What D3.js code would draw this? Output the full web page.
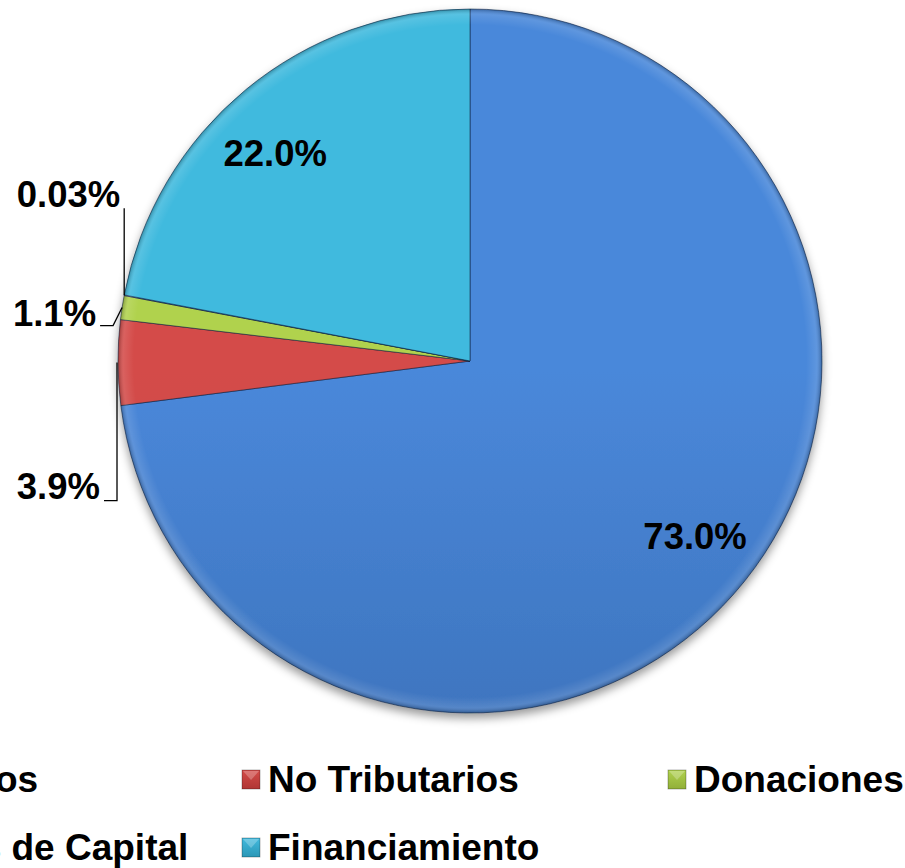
<!DOCTYPE html>
<html>
<head>
<meta charset="utf-8">
<script src="https://cdn.jsdelivr.net/npm/d3@7/dist/d3.min.js"></script>
<style>
  html, body { margin: 0; padding: 0; background: #fff; }
  svg { display: block; }
</style>
</head>
<body>
<div id="chart"></div>
<script>
// data
const categories = ["Tributarios", "No Tributarios", "Donaciones", "Ingresos de Capital", "Financiamiento"];
const shares = [73.0, 3.9, 1.1, 0.03, 22.0];
const colorsTop = ["#4a88da", "#d44c49", "#b0d24e", "#8a6cb8", "#41bade"];
const colorsBottom = ["#3262a4", "#b03634", "#91af38", "#6e529c", "#2c97b6"];

const width = 905, height = 868;
const cx = 470, cy = 361, R = 352;
const font = "'Liberation Sans', Arial, sans-serif";

// outside labels: leader path relative to the slice edge point, text at the last point
const outside = {
  "Ingresos de Capital": { path: [[0, 0], [0, -87]], dx: -4, dy: -1 },
  "Donaciones": { path: [[0, 0], [-9, 18], [-22, 18]], dx: -4, dy: 0 },
  "No Tributarios": { path: [[-1, 0], [-1, 138], [-14, 138]], dx: -4, dy: -2 },
};

const rows = categories.map((name, i) => ({ name, value: shares[i], i }));

const svg = d3.select("#chart").append("svg").attr("width", width).attr("height", height);
const defs = svg.append("defs");

const shadow = defs.append("filter").attr("id", "shadow").attr("x", "-10%").attr("y", "-10%").attr("width", "120%").attr("height", "120%");
shadow.append("feDropShadow").attr("dx", 0).attr("dy", 5).attr("stdDeviation", 5).attr("flood-color", "#000").attr("flood-opacity", 0.4);

rows.forEach((d) => {
  const g = defs.append("linearGradient").attr("id", `grad${d.i}`)
    .attr("gradientUnits", "userSpaceOnUse")
    .attr("x1", cx).attr("x2", cx).attr("y1", cy - R).attr("y2", cy + R);
  g.append("stop").attr("offset", "0%").attr("stop-color", colorsTop[d.i]);
  g.append("stop").attr("offset", "100%").attr("stop-color", colorsBottom[d.i]);

  const m = defs.append("linearGradient").attr("id", `mark${d.i}`).attr("x1", "0%").attr("x2", "0%").attr("y1", "0%").attr("y2", "100%");
  m.append("stop").attr("offset", "0%").attr("stop-color", colorsTop[d.i]);
  m.append("stop").attr("offset", "100%").attr("stop-color", colorsBottom[d.i]);
});

const rim = defs.append("radialGradient").attr("id", "rim")
  .attr("gradientUnits", "userSpaceOnUse").attr("cx", cx).attr("cy", cy).attr("r", R);
rim.append("stop").attr("offset", "0.955").attr("stop-color", "#fff").attr("stop-opacity", 0);
rim.append("stop").attr("offset", "0.985").attr("stop-color", "#fff").attr("stop-opacity", 0.12);
rim.append("stop").attr("offset", "1").attr("stop-color", "#000").attr("stop-opacity", 0.25);

const pie = d3.pie().sort(null).value((d) => d.value).startAngle(0).endAngle(2 * Math.PI);
const arcs = pie(rows);
const arc = d3.arc().innerRadius(0).outerRadius(R);
const edge = d3.arc().innerRadius(R).outerRadius(R);

const pieG = svg.append("g").attr("transform", `translate(${cx},${cy})`);
const slices = pieG.append("g").attr("filter", "url(#shadow)");
slices.selectAll("path")
  .data(arcs)
  .enter()
  .append("path")
  .attr("d", arc)
  .attr("fill", (d) => `url(#grad${d.data.i})`)
  .attr("stroke", "rgba(10,30,60,0.55)")
  .attr("stroke-width", 1)
  .attr("stroke-linejoin", "round");

pieG.append("circle").attr("r", R).attr("fill", "url(#rim)").attr("transform", `translate(${-cx},${-cy})`)
  .attr("cx", cx).attr("cy", cy);

const fmt = (v) => (v < 0.1 ? v.toFixed(2) : v.toFixed(1)) + "%";

// labels inside the big slices, a little counter-clockwise of the middle (as Excel puts them)
const labelPos = (d) => {
  const a = (d.startAngle + d.endAngle) / 2 - 0.061;
  const r = R * 0.81;
  return [r * Math.sin(a), -r * Math.cos(a)];
};
pieG.append("g")
  .selectAll("text")
  .data(arcs.filter((d) => !outside[d.data.name]))
  .enter()
  .append("text")
  .attr("x", (d) => labelPos(d)[0])
  .attr("y", (d) => labelPos(d)[1] + 13)
  .attr("text-anchor", "middle")
  .attr("font-family", font)
  .attr("font-weight", "bold")
  .attr("font-size", 36.5)
  .attr("fill", "#000")
  .text((d) => fmt(d.data.value));

// outside labels with leader lines
const outG = pieG.append("g");
arcs.filter((d) => outside[d.data.name]).forEach((d) => {
  const spec = outside[d.data.name];
  const p = edge.centroid(d);
  const pts = spec.path.map(([dx, dy]) => [p[0] + dx, p[1] + dy]);
  outG.append("path")
    .attr("d", d3.line()(pts))
    .attr("fill", "none")
    .attr("stroke", "#000")
    .attr("stroke-width", 1.3);
  const last = pts[pts.length - 1];
  outG.append("text")
    .attr("x", last[0] + spec.dx)
    .attr("y", last[1] + spec.dy)
    .attr("text-anchor", "end")
    .attr("font-family", font)
    .attr("font-weight", "bold")
    .attr("font-size", 36.5)
    .attr("fill", "#000")
    .text(fmt(d.data.value));
});

// legend, three columns, first one cut off on the left like the original
const colX = d3.scaleOrdinal().domain([0, 1, 2]).range([-179, 242, 668]);
const rowY = d3.scaleLinear().domain([0, 1]).range([792, 860]);
const legend = svg.append("g")
  .selectAll("g")
  .data(rows)
  .enter()
  .append("g")
  .attr("transform", (d) => `translate(${colX(d.i % 3)},${rowY(Math.floor(d.i / 3))})`);

legend.append("rect")
  .attr("x", 0).attr("y", -22).attr("width", 18).attr("height", 19)
  .attr("fill", (d) => `url(#mark${d.i})`)
  .attr("stroke", "rgba(0,0,0,0.35)").attr("stroke-width", 0.8);
legend.append("path")
  .attr("d", "M1,-21L17,-21L9,-12Z")
  .attr("fill", "#fff").attr("fill-opacity", 0.25);

legend.append("text")
  .attr("x", 26)
  .attr("y", 0)
  .attr("font-family", font)
  .attr("font-weight", "bold")
  .attr("font-size", 37)
  .attr("fill", "#000")
  .text((d) => d.name);
</script>
</body>
</html>
